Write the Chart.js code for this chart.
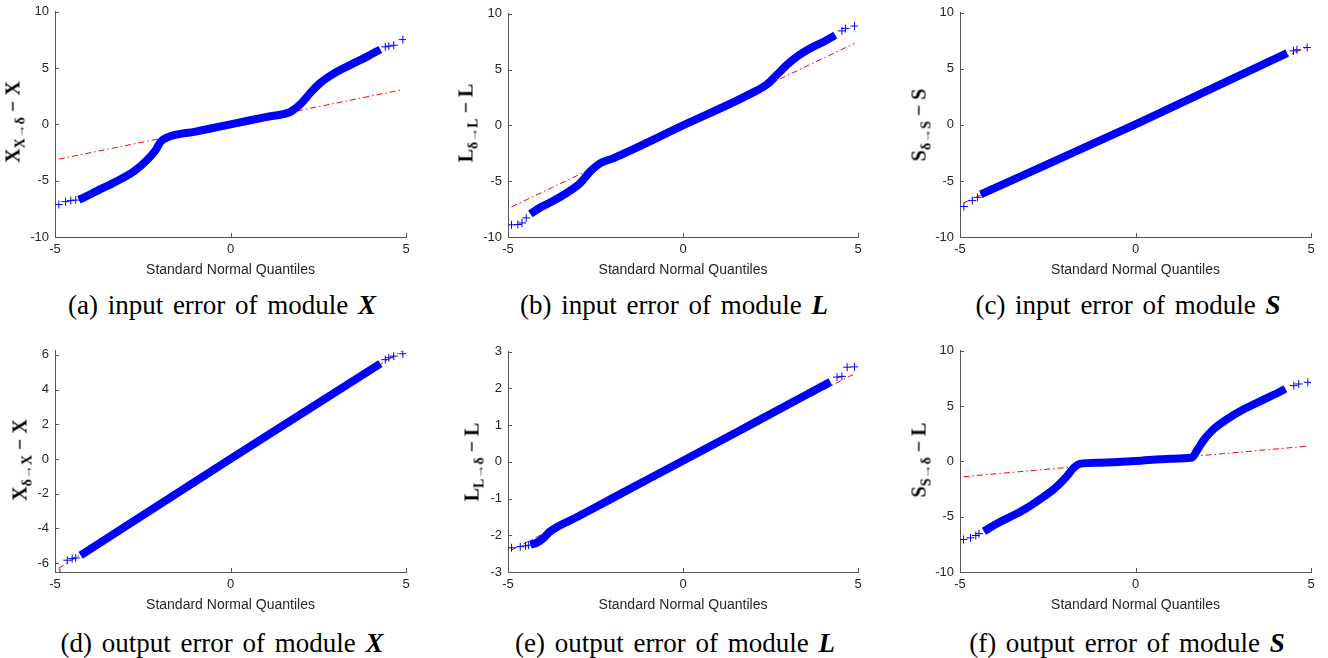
<!DOCTYPE html>
<html>
<head>
<meta charset="utf-8">
<script src="https://cdn.jsdelivr.net/npm/chart.js@4.4.0/dist/chart.umd.min.js"></script>
<style>
  body { margin: 0; width: 1328px; height: 658px; overflow: hidden; background: #fff; position: relative; }
  canvas { position: absolute; }
  .ylab { position: absolute; transform: translate(-50%, -50%) rotate(-90deg); font-family: "Liberation Serif", serif; font-weight: bold; font-size: 20px; white-space: nowrap; color: #000; }
  .ylab sub { font-size: 14px; }
  .cap { position: absolute; transform: translate(-50%, -50%); font-family: "Liberation Serif", serif; font-size: 27px; white-space: nowrap; word-spacing: 3px; color: #000; }
</style>
</head>
<body>
<script>
// shared x ticks (standard normal quantiles)
const xTicks = [-5, 0, 5];

// (a) input error of module X
const aBandX = [-4.32, -4.17, -3.80, -3.32, -2.75, -2.37, -2.13, -1.99, -1.80, -1.00, 0, 1.00, 1.70, 1.85, 2.04, 2.28, 2.56, 2.94, 3.42, 3.89, 4.27];
const aBandY = [-6.69, -6.48, -5.90, -5.17, -4.16, -3.14, -2.27, -1.54, -1.15, -0.64, 0, 0.65, 1.10, 1.42, 1.95, 2.82, 3.69, 4.51, 5.29, 6.02, 6.66];
const aTailX = [-4.89, -4.70, -4.55, -4.41, 4.41, 4.51, 4.65, 4.91];
const aTailY = [-7.12, -6.86, -6.77, -6.72, 6.89, 6.95, 7.03, 7.53];
const aRefX = [-4.89, 4.91];
const aRefY = [-3.08, 3.09];
const aTicksY = [-10, -5, 0, 5, 10];

// (b) input error of module L
const bBandX = [-4.36, -4.08, -3.70, -3.31, -2.93, -2.65, -2.36, -2.00, 0, 2.02, 2.40, 2.69, 2.97, 3.26, 3.64, 4.02, 4.35];
const bBandY = [-7.94, -7.35, -6.76, -6.03, -5.15, -4.12, -3.38, -2.95, 0, 2.98, 3.68, 4.56, 5.44, 6.18, 6.91, 7.50, 8.09];
const bTailX = [-4.90, -4.72, -4.60, -4.48, 4.54, 4.64, 4.90];
const bTailY = [-8.91, -8.88, -8.74, -8.29, 8.47, 8.68, 8.91];
const bRefX = [-4.90, 4.90];
const bRefY = [-7.30, 7.35];
const bTicksY = [-10, -5, 0, 5, 10];

// (c) input error of module S
const cBandX = [-4.41, 0, 4.32];
const cBandY = [-6.20, 0.05, 6.40];
const cTailX = [-4.89, -4.65, -4.50, 4.50, 4.60, 4.89];
const cTailY = [-7.28, -6.75, -6.46, 6.60, 6.70, 6.90];
const cRefX = [-4.89, 4.89];
const cRefY = [-6.95, 6.95];
const cTicksY = [-10, -5, 0, 5, 10];

// (d) output error of module X
const dBandX = [-4.27, 0, 4.27];
const dBandY = [-5.55, 0, 5.49];
const dTailX = [-4.86, -4.65, -4.51, -4.41, 4.41, 4.51, 4.65, 4.91];
const dTailY = [-6.55, -5.83, -5.74, -5.70, 5.72, 5.83, 5.92, 6.06];
const dRefX = [-4.90, 4.90];
const dRefY = [-6.30, 6.25];
const dTicksY = [-6, -4, -2, 0, 2, 4, 6];

// (e) output error of module L
const eBandX = [-4.36, -4.17, -3.98, -3.79, -3.00, -2.00, 0, 2.00, 4.21];
const eBandY = [-2.25, -2.20, -2.07, -1.89, -1.49, -0.98, 0.03, 1.05, 2.18];
const eTailX = [-4.90, -4.65, -4.50, -4.41, 4.40, 4.54, 4.69, 4.90];
const eTailY = [-2.34, -2.31, -2.29, -2.27, 2.31, 2.33, 2.58, 2.59];
const eRefX = [-4.90, 4.90];
const eRefY = [-2.40, 2.40];
const eTicksY = [-3, -2, -1, 0, 1, 2, 3];

// (f) output error of module S
const fBandX = [-4.32, -3.84, -3.46, -3.08, -2.70, -2.32, -1.99, -1.76, -1.58, -1.00, 0, 1.00, 1.61, 1.76, 1.94, 2.23, 2.61, 3.08, 3.65, 4.13, 4.27];
const fBandY = [-6.32, -5.44, -4.85, -4.18, -3.38, -2.50, -1.47, -0.59, -0.22, -0.12, 0.03, 0.24, 0.35, 1.03, 1.91, 2.94, 3.82, 4.71, 5.59, 6.32, 6.56];
const fTailX = [-4.90, -4.70, -4.55, -4.46, 4.51, 4.65, 4.91];
const fTailY = [-7.06, -6.91, -6.70, -6.53, 6.85, 7.00, 7.15];
const fRefX = [-4.90, 4.91];
const fRefY = [-1.38, 1.38];
const fTicksY = [-10, -5, 0, 5, 10];

const axisColor = '#555555';
const textColor = '#262626';
const zip = (xs, ys) => xs.map((x, i) => ({ x: x, y: ys[i] }));

// panel layout: plot area box in page pixels
const panels = [
  { band: [aBandX, aBandY], tail: [aTailX, aTailY], ref: [aRefX, aRefY], ticks: aTicksY, yMin: -10, yMax: 10, box: [55, 8, 406, 237],
    ylab: 'X<sub>X→δ</sub> − X', ylabPos: [15, 122], cap: '(a) input error of module <b><i>X</i></b>', capPos: [222, 305] },
  { band: [bBandX, bBandY], tail: [bTailX, bTailY], ref: [bRefX, bRefY], ticks: bTicksY, yMin: -10, yMax: 10, box: [508, 10, 858, 237],
    ylab: 'L<sub>δ→L</sub> − L', ylabPos: [468, 123], cap: '(b) input error of module <b><i>L</i></b>', capPos: [674, 305] },
  { band: [cBandX, cBandY], tail: [cTailX, cTailY], ref: [cRefX, cRefY], ticks: cTicksY, yMin: -10, yMax: 10, box: [960, 9, 1311, 237],
    ylab: 'S<sub>δ→S</sub> − S', ylabPos: [921, 125], cap: '(c) input error of module <b><i>S</i></b>', capPos: [1128, 305] },
  { band: [dBandX, dBandY], tail: [dTailX, dTailY], ref: [dRefX, dRefY], ticks: dTicksY, yMin: -6.51, yMax: 6.23, box: [55, 347, 406, 572],
    ylab: 'X<sub>δ→X</sub> − X', ylabPos: [22, 460], cap: '(d) output error of module <b><i>X</i></b>', capPos: [222, 643] },
  { band: [eBandX, eBandY], tail: [eTailX, eTailY], ref: [eRefX, eRefY], ticks: eTicksY, yMin: -3, yMax: 3, box: [508, 348, 858, 572],
    ylab: 'L<sub>L→δ</sub> − L', ylabPos: [474, 462], cap: '(e) output error of module <b><i>L</i></b>', capPos: [675, 643] },
  { band: [fBandX, fBandY], tail: [fTailX, fTailY], ref: [fRefX, fRefY], ticks: fTicksY, yMin: -10, yMax: 10, box: [960, 347, 1311, 572],
    ylab: 'S<sub>S→δ</sub> − L', ylabPos: [921, 460], cap: '(f) output error of module <b><i>S</i></b>', capPos: [1127, 643] }
];

// MATLAB style tick marks pointing into the plot
const innerTicks = {
  id: 'innerTicks',
  afterDraw(chart) {
    const { ctx, chartArea, scales } = chart;
    ctx.save();
    ctx.strokeStyle = axisColor;
    ctx.lineWidth = 1;
    ctx.beginPath();
    scales.x.ticks.forEach(t => {
      const px = Math.round(scales.x.getPixelForValue(t.value)) + 0.5;
      ctx.moveTo(px, chartArea.bottom);
      ctx.lineTo(px, chartArea.bottom - 4);
    });
    scales.y.ticks.forEach(t => {
      const py = Math.round(scales.y.getPixelForValue(t.value)) + 0.5;
      ctx.moveTo(chartArea.left, py);
      ctx.lineTo(chartArea.left + 4, py);
    });
    ctx.stroke();
    ctx.restore();
  }
};

const Y_W = 45, X_H = 42, PAD_T = 10, PAD_R = 20;

panels.forEach(p => {
  const [l, t, r, b] = p.box;
  const canvas = document.createElement('canvas');
  canvas.width = (r - l) + Y_W + PAD_R;
  canvas.height = (b - t) + PAD_T + X_H;
  canvas.style.left = (l - Y_W) + 'px';
  canvas.style.top = (t - PAD_T) + 'px';
  document.body.appendChild(canvas);

  new Chart(canvas.getContext('2d'), {
    type: 'scatter',
    data: {
      datasets: [
        {
          data: zip(p.band[0], p.band[1]),
          showLine: true,
          borderColor: '#0000ff',
          borderWidth: 8,
          pointRadius: 0,
          cubicInterpolationMode: 'monotone'
        },
        {
          data: zip(p.tail[0], p.tail[1]),
          showLine: false,
          pointStyle: 'cross',
          pointRadius: 4,
          pointBorderWidth: 1,
          pointBorderColor: '#0000ff'
        },
        {
          data: zip(p.ref[0], p.ref[1]),
          showLine: true,
          borderColor: '#ff0000',
          borderWidth: 1,
          borderDash: [6, 3, 1.5, 3],
          pointRadius: 0
        }
      ]
    },
    options: {
      responsive: false,
      animation: false,
      devicePixelRatio: 1,
      layout: { padding: { top: PAD_T, right: PAD_R, left: 0, bottom: 0 } },
      plugins: { legend: { display: false }, tooltip: { enabled: false } },
      scales: {
        x: {
          type: 'linear',
          min: -5, max: 5,
          afterBuildTicks: s => { s.ticks = xTicks.map(v => ({ value: v })); },
          afterFit: s => { s.height = X_H; },
          grid: { drawOnChartArea: false, drawTicks: false },
          border: { color: axisColor, width: 1 },
          ticks: { color: textColor, padding: 5, font: { family: 'Liberation Sans', size: 13 } },
          title: { display: true, text: 'Standard Normal Quantiles', color: textColor, padding: 0, font: { family: 'Liberation Sans', size: 14 } }
        },
        y: {
          type: 'linear',
          min: p.yMin, max: p.yMax,
          afterBuildTicks: s => { s.ticks = p.ticks.map(v => ({ value: v })); },
          afterFit: s => { s.width = Y_W; },
          grid: { drawOnChartArea: false, drawTicks: false },
          border: { color: axisColor, width: 1 },
          ticks: { color: textColor, padding: 6, font: { family: 'Liberation Sans', size: 13 } }
        }
      }
    },
    plugins: [innerTicks]
  });

  const yl = document.createElement('div');
  yl.className = 'ylab';
  yl.innerHTML = p.ylab;
  yl.style.left = p.ylabPos[0] + 'px';
  yl.style.top = p.ylabPos[1] + 'px';
  document.body.appendChild(yl);

  const cap = document.createElement('div');
  cap.className = 'cap';
  cap.innerHTML = p.cap;
  cap.style.left = p.capPos[0] + 'px';
  cap.style.top = p.capPos[1] + 'px';
  document.body.appendChild(cap);
});
</script>
</body>
</html>
